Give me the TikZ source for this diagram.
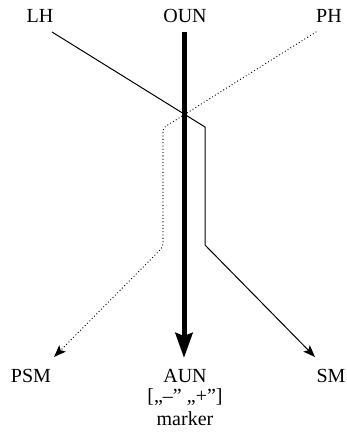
\documentclass[tikz,border=0pt]{standalone}
\usepackage{fontspec}
\setmainfont{Liberation Serif}
\usetikzlibrary{arrows.meta}
\begin{document}
\begin{tikzpicture}[x=1pt,y=-1pt,
  lbl/.style={font=\fontsize{20}{23}\selectfont, inner sep=0pt},
  thinline/.style={line width=1pt, -{Stealth[length=12pt,width=9pt,inset=2.5pt]}},
  dotline/.style={line width=1.3pt, dash pattern=on 0pt off 3.3pt, line cap=round, rounded corners=3pt, -{Stealth[length=12pt,width=9pt,inset=2.5pt]}},
  thickline/.style={line width=5pt, -{Stealth[length=25pt,width=17pt,inset=3pt]}}]
\useasboundingbox (0,0) rectangle (346,435);
\node[lbl] (LH) at (40,16) {LH};
\node[lbl] (OUN) at (185,16) {OUN};
\node[lbl] (PH) at (329,16) {PH};
\node[lbl] (PSM) at (31,376) {PSM};
\node[lbl] (AUN) at (185,376) {AUN};
\node[lbl] (mk) at (185,397) {[„–” „+”]};
\node[lbl] (marker) at (185,419) {marker};
\node[lbl] (SM) at (331,376) {SM};
\coordinate (lhs) at (52,32);
\coordinate (lhb1) at (205,127);
\coordinate (lhb2) at (205,245);
\coordinate (sme) at (315,357);
\coordinate (phs) at (316,32);
\coordinate (phb1) at (163,128);
\coordinate (phb2) at (163,247);
\coordinate (psme) at (54,357);
\coordinate (ouns) at (184,32);
\coordinate (aune) at (184,358);
\draw[thinline] (lhs) -- (lhb1) -- (lhb2) -- (sme);
\draw[dotline] (phs) -- (phb1) -- (phb2) -- (psme);
\draw[thickline] (ouns) -- (aune);
\end{tikzpicture}
\end{document}
